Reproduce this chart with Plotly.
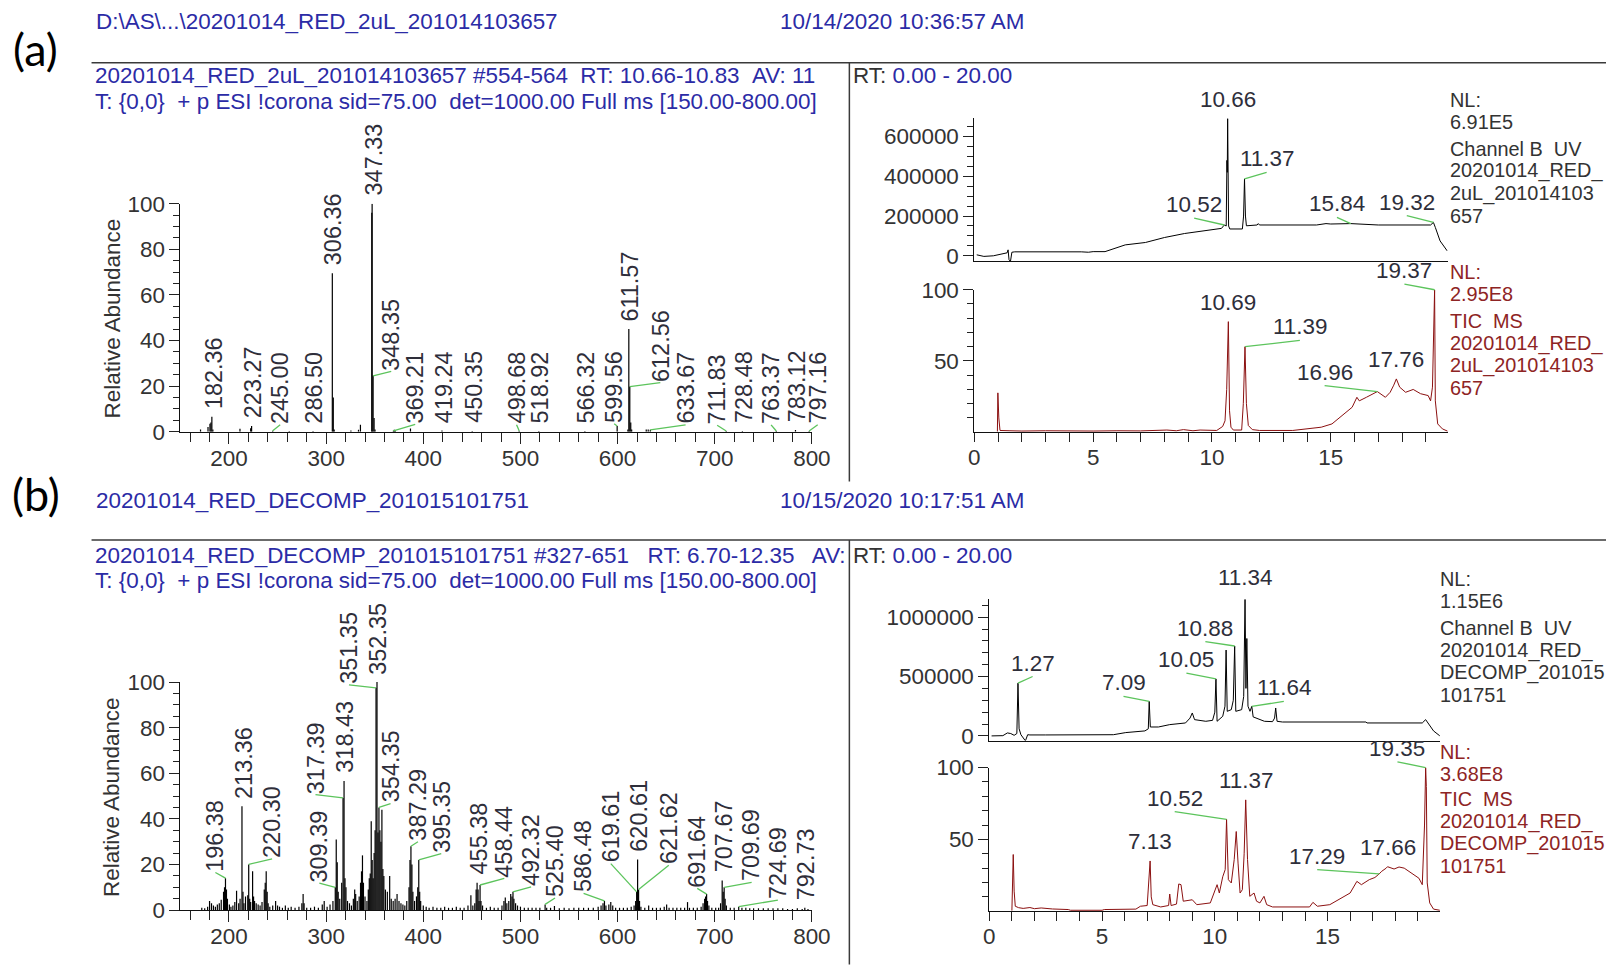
import plotly.graph_objects as go

# Layout positions below are given in a 1606 x 965 page frame (P).  They are
# converted to figure pixels with a linear mapping that accounts for the body
# margin of the page and the scale of the rendered view.
W, H = 1606, 965
SX, TX = 1.0154, -6.54
SY, TY = 1.0243, -10.99
FW, FH = round(SX * W + TX) + 1, round(SY * H + TY) + 1
FS = 1.02  # font scale matching the mapping

FONT = "Liberation Sans, Arial, sans-serif"
BLUE = "#2b2ba6"
INK = "#333333"
LABEL_INK = "#2e2e3a"
TIC_RED = "#8b1010"
LEGEND_RED = "#8e2424"
LEADER = "#5cc45c"

# ---------------- mass spectrum (a): RT 10.66-10.83 ----------------
spec_a_mz = [170.7, 178.4, 180.4, 181.4, 182.36, 183.4, 211.3, 222.3, 223.27, 245.00,
             262.0, 286.50, 306.36, 307.36, 308.3, 325.5, 333.3, 335.3, 347.0, 347.33,
             348.35, 349.35, 350.3, 369.21, 370.2, 371.2, 386.8, 419.24, 450.35, 498.68,
             518.92, 566.32, 599.56, 610.6, 611.57, 612.56, 613.55, 614.5, 629.5, 631.5,
             633.67, 711.83, 728.48, 763.37, 783.12, 797.16]
spec_a_int = [1.0, 2.0, 3.5, 4.0, 6.6, 1.0, 1.3, 1.5, 2.5, 0.4,
              0.3, 0.3, 69.5, 15.0, 1.0, 0.5, 0.8, 3.0, 96.0, 100.0,
              24.5, 6.0, 1.0, 0.4, 0.8, 0.5, 1.4, 0.5, 0.3, 0.4,
              0.3, 0.3, 2.5, 1.0, 45.0, 19.8, 4.0, 1.0, 1.0, 1.0,
              0.8, 0.3, 0.3, 0.3, 0.7, 0.3]
spec_a_labels = [182.36, 223.27, 245.00, 286.50, 306.36, 347.33, 348.35, 369.21, 419.24,
                 450.35, 498.68, 518.92, 566.32, 599.56, 611.57, 612.56, 633.67, 711.83,
                 728.48, 763.37, 783.12, 797.16]

# ---------------- mass spectrum (b): RT 6.70-12.35 ----------------
spec_b_mz = [172.0, 175.0, 178.0, 180.0, 182.0, 184.0, 186.0, 188.0, 190.0, 192.0,
             194.4, 195.4, 196.38, 197.4, 198.4, 200.4, 202.0, 204.0, 206.0, 207.8,
             210.0, 211.4, 213.36, 214.4, 215.4, 217.0, 219.3, 220.30, 221.3, 222.3,
             224.3, 225.3, 226.3, 228.0, 230.0, 232.0, 234.0, 236.3, 237.3, 238.3,
             239.3, 240.3, 242.0, 245.0, 248.0, 250.0, 252.0, 255.0, 258.0, 261.0,
             264.0, 268.0, 272.0, 275.0, 276.3, 277.3, 280.0, 284.0, 288.0, 292.0,
             296.0, 298.0, 301.0, 304.0, 307.0, 309.39, 310.4, 311.4, 312.4, 314.0,
             316.0, 317.39, 318.43, 319.4, 320.4, 322.0, 324.0, 326.0, 328.0, 329.4,
             330.4, 332.0, 334.0, 335.4, 336.4, 337.4, 338.4, 340.0, 342.0, 343.4,
             344.4, 345.4, 346.4, 347.4, 348.4, 349.4, 350.4, 351.35, 352.35, 353.35,
             354.35, 355.35, 356.4, 357.4, 358.4, 359.4, 361.0, 363.0, 365.4, 367.0,
             369.0, 371.0, 373.0, 375.0, 377.0, 379.0, 381.0, 383.0, 385.3, 386.3,
             387.29, 388.3, 389.3, 391.0, 393.0, 394.3, 395.35, 396.3, 397.3, 400.0,
             403.0, 406.0, 410.0, 414.0, 418.0, 422.0, 426.0, 430.0, 434.0, 438.0,
             442.0, 446.0, 449.0, 451.0, 453.0, 454.4, 455.38, 456.4, 457.4, 458.44,
             459.4, 461.0, 465.0, 469.0, 473.0, 477.0, 481.0, 483.0, 484.4, 486.0,
             488.0, 490.0, 491.3, 492.32, 493.3, 495.0, 497.0, 500.0, 504.0, 508.0,
             512.0, 516.0, 520.0, 525.40, 527.0, 531.0, 535.0, 540.0, 545.0, 550.0,
             555.0, 560.0, 565.0, 570.0, 575.0, 580.0, 583.0, 585.0, 586.48, 588.0,
             591.0, 593.0, 595.0, 598.0, 602.0, 606.0, 610.0, 614.0, 617.0, 618.6,
             619.61, 620.61, 621.62, 622.6, 624.0, 628.0, 632.0, 636.0, 640.0, 644.0,
             648.0, 650.5, 653.0, 657.0, 661.0, 665.0, 669.0, 672.0, 674.0, 678.0,
             682.0, 686.0, 688.0, 689.6, 690.6, 691.64, 692.6, 694.0, 697.0, 701.0,
             704.0, 706.0, 707.67, 708.7, 709.69, 710.7, 712.0, 716.0, 720.0, 724.69,
             728.0, 732.0, 736.0, 740.0, 745.0, 750.0, 755.0, 760.0, 765.0, 770.0,
             775.0, 780.0, 785.0, 790.0, 792.73, 796.0]
spec_b_int = [1.0, 0.8, 1.5, 4.0, 3.0, 2.0, 1.5, 2.5, 3.0, 4.5,
              8.0, 10.0, 14.0, 9.0, 5.0, 2.5, 1.5, 2.0, 3.5, 8.5,
              3.0, 5.0, 45.5, 8.0, 3.0, 6.0, 6.5, 20.0, 5.0, 3.5,
              17.0, 6.0, 4.0, 3.0, 2.5, 2.0, 3.5, 9.0, 12.0, 17.0,
              8.0, 3.0, 1.5, 2.0, 4.0, 2.0, 1.5, 1.0, 2.0, 1.0,
              1.5, 1.0, 1.5, 3.0, 7.0, 3.0, 1.0, 1.0, 1.5, 1.0,
              2.5, 4.0, 1.5, 2.5, 4.0, 10.0, 31.0, 21.0, 8.0, 5.0,
              12.0, 49.2, 56.6, 14.0, 10.0, 4.0, 3.0, 2.0, 5.0, 9.0,
              7.0, 4.0, 6.0, 12.0, 17.0, 24.0, 12.0, 6.0, 4.0, 9.0,
              14.0, 16.0, 39.0, 22.0, 14.0, 25.0, 35.0, 97.5, 100.0, 34.0,
              45.0, 35.0, 30.0, 44.0, 18.0, 15.0, 9.0, 8.0, 15.0, 5.0,
              4.0, 5.0, 7.0, 4.0, 3.0, 2.5, 2.0, 4.0, 10.0, 22.0,
              28.0, 20.0, 8.0, 4.0, 6.0, 10.0, 22.0, 8.0, 4.0, 2.0,
              1.5, 1.0, 1.5, 1.0, 1.0, 1.5, 1.0, 1.0, 1.5, 1.0,
              1.0, 2.0, 6.5, 2.0, 3.0, 9.0, 12.0, 9.0, 4.0, 11.0,
              4.0, 2.0, 1.0, 1.5, 1.0, 1.0, 2.0, 4.0, 5.5, 3.0,
              4.0, 7.0, 6.0, 8.0, 5.0, 3.0, 2.0, 1.5, 1.0, 1.0,
              1.0, 1.0, 1.0, 2.5, 1.0, 1.0, 1.8, 0.8, 1.0, 0.8,
              1.0, 1.0, 1.0, 1.0, 1.0, 1.5, 2.0, 3.0, 4.0, 2.0,
              2.5, 3.5, 2.0, 1.0, 1.0, 1.0, 1.0, 1.5, 2.0, 4.0,
              8.0, 22.2, 9.0, 4.0, 1.5, 1.0, 2.0, 1.0, 1.0, 1.0,
              1.5, 2.5, 1.0, 1.0, 1.0, 1.0, 1.0, 3.5, 1.0, 1.0,
              1.0, 1.5, 3.0, 5.0, 6.0, 7.0, 4.0, 2.0, 1.0, 1.0,
              1.0, 3.0, 13.0, 8.0, 10.0, 5.0, 2.0, 1.0, 1.0, 1.5,
              1.0, 1.0, 0.8, 0.8, 0.8, 0.8, 0.8, 0.8, 0.8, 0.8,
              0.5, 0.5, 0.8, 0.5, 1.0, 0.5]
spec_b_labels = [196.38, 213.36, 220.30, 309.39, 317.39, 318.43, 351.35, 352.35, 354.35,
                 387.29, 395.35, 455.38, 458.44, 492.32, 525.40, 586.48, 619.61, 620.61,
                 621.62, 691.64, 707.67, 709.69, 724.69, 792.73]

# ---------------- chromatograms, run (a) ----------------
uv_a_nl = 6.91e5
tic_a_nl = "2.95E8"
uv_a_t = [0.10, 0.40, 0.80, 1.20, 1.38, 1.42, 1.46, 1.52, 1.58, 1.70,
          2.50, 3.50, 4.50, 4.80, 5.00, 5.50, 5.80, 6.35, 7.20, 8.00,
          8.84, 9.67, 10.40, 10.52, 10.60, 10.63, 10.645, 10.66, 10.70, 10.75,
          11.28, 11.33, 11.37, 11.41, 11.45, 11.90, 11.95, 12.00, 14.40, 14.80,
          15.00, 15.84, 16.30, 17.00, 19.20, 19.32, 19.40, 19.60, 19.90]
uv_a_v = [5000, -3000, 0, 8000, 15000, 30000, -20000, -28000, 18000, 20000,
          21000, 21000, 20000, 18000, 21000, 21000, 33000, 55000, 67000, 92000,
          112000, 126000, 138000, 155000, 150000, 480000, 420000, 691000, 150000, 135000,
          135000, 200000, 387000, 200000, 151000, 155000, 162000, 155000, 155000, 162000,
          160000, 162000, 160000, 155000, 155000, 168000, 143000, 75000, 25000]
uv_a_labels = [10.52, 10.66, 11.37, 15.84, 19.32]

tic_a_t = [0.97, 0.99, 1.03, 1.08, 1.50, 2.00, 3.00, 4.00, 5.00, 6.00,
           7.00, 8.10, 8.50, 8.80, 9.20, 9.50, 10.20, 10.45, 10.55, 10.62,
           10.69, 10.74, 10.80, 10.90, 11.25, 11.32, 11.39, 11.45, 11.53, 11.70,
           12.00, 13.40, 14.00, 14.60, 15.05, 15.50, 15.90, 16.10, 16.20, 16.50,
           16.96, 17.30, 17.50, 17.65, 17.76, 17.90, 18.15, 18.47, 18.78, 19.10,
           19.20, 19.28, 19.37, 19.40, 19.50, 19.70, 19.92]
tic_a_v = [0.5, 27.6, 10.0, 1.2, 1.0, 0.8, 1.0, 0.8, 0.8, 1.0,
           0.9, 1.5, 1.0, 1.8, 1.0, 1.5, 1.2, 4.0, 8.0, 30.0,
           77.6, 15.0, 3.5, 1.5, 1.5, 20.0, 60.0, 20.0, 4.7, 1.8,
           1.2, 1.2, 2.3, 3.5, 5.8, 11.7, 17.5, 24.5, 22.0, 24.5,
           28.5, 24.5, 28.0, 33.0, 37.4, 31.6, 28.0, 30.0, 27.0, 25.7,
           22.0, 31.6, 100.0, 22.0, 5.8, 2.3, 0.7]
tic_a_labels = [10.69, 11.39, 16.96, 17.76, 19.37]

# ---------------- chromatograms, run (b) ----------------
uv_b_nl = 1.15e6
tic_b_nl = "3.68E8"
uv_b_t = [0.10, 0.60, 0.80, 0.95, 1.10, 1.22, 1.27, 1.32, 1.40, 1.50,
          1.60, 1.70, 1.80, 2.50, 3.50, 4.50, 5.50, 6.05, 6.90, 7.05,
          7.09, 7.14, 7.50, 8.00, 8.40, 8.70, 8.90, 9.00, 9.10, 9.40,
          9.60, 9.90, 10.00, 10.05, 10.10, 10.35, 10.45, 10.50, 10.55, 10.73,
          10.82, 10.88, 10.93, 11.19, 11.28, 11.34, 11.38, 11.42, 11.47, 11.56,
          11.64, 11.70, 11.97, 12.20, 12.56, 12.65, 12.70, 12.76, 13.00, 16.70,
          16.75, 19.20, 19.35, 19.50, 19.70, 19.98]
uv_b_v = [0, 2000, 25000, 20000, 5000, 20000, 444000, 60000, 10000, -20000,
          -42000, 10000, 8000, 8000, 9000, 9000, 10000, 28000, 42000, 60000,
          290000, 75000, 75000, 95000, 100000, 109000, 150000, 193000, 137000, 130000,
          123000, 131000, 200000, 480000, 123000, 165000, 250000, 723000, 207000, 221000,
          300000, 757000, 207000, 221000, 332000, 1150000, 400000, 820000, 250000, 207000,
          249000, 160000, 137000, 123000, 120000, 150000, 235000, 123000, 117000, 117000,
          109000, 109000, 137000, 100000, 42000, 0]
uv_b_labels = [1.27, 7.09, 10.05, 10.88, 11.34, 11.64]

tic_b_t = [1.00, 1.06, 1.10, 1.15, 1.30, 1.50, 1.80, 2.00, 2.30, 2.80,
           3.50, 3.60, 5.00, 5.10, 6.50, 6.70, 7.00, 7.08, 7.13, 7.18,
           7.25, 7.60, 7.95, 8.00, 8.06, 8.30, 8.40, 8.50, 8.60, 9.00,
           9.20, 9.80, 10.00, 10.10, 10.20, 10.35, 10.46, 10.52, 10.60, 10.73,
           10.86, 10.95, 11.03, 11.12, 11.22, 11.30, 11.37, 11.45, 11.55, 11.74,
           11.85, 12.00, 12.18, 12.30, 12.56, 14.20, 14.35, 14.55, 15.10, 15.50,
           16.00, 16.30, 16.50, 16.85, 17.10, 17.29, 17.40, 17.60, 17.66, 17.95,
           18.17, 18.40, 18.60, 18.80, 19.05, 19.20, 19.30, 19.35, 19.38, 19.42,
           19.53, 19.70, 19.98]
tic_b_v = [0.5, 39.5, 14.0, 3.5, 2.5, 2.0, 2.6, 1.8, 2.3, 1.6,
           1.2, 0.7, 0.7, 1.2, 1.5, 3.5, 4.0, 20.0, 35.0, 10.0,
           4.6, 3.0, 4.0, 12.0, 4.0, 5.0, 19.0, 18.5, 7.0, 8.0,
           4.6, 5.8, 15.0, 18.5, 12.7, 24.0, 29.0, 64.0, 22.0, 19.7,
           36.0, 55.5, 33.5, 12.7, 15.0, 40.0, 77.5, 36.0, 10.4, 12.7,
           7.0, 5.8, 10.4, 4.6, 3.0, 3.0, 6.2, 3.5, 4.6, 8.1,
           12.7, 20.8, 18.5, 22.0, 23.5, 26.0, 27.8, 30.0, 31.0, 29.4,
           30.8, 30.0, 27.8, 26.0, 23.0, 18.5, 60.0, 100.0, 86.8, 19.7,
           5.8, 1.5, 0.7]
tic_b_labels = [7.13, 10.52, 11.37, 17.29, 17.66, 19.35]

# ---------------- label placement (offset labels with leader lines) ----------------
spec_a_place = {"245.00": (252.7, 3.0), "348.35": (367.0, 26.4), "369.21": (391.7, 3.2),
                "498.68": (496.0, 3.0), "599.56": (596.5, 3.5), "612.56": (644.0, 21.5),
                "633.67": (670.0, 3.0), "711.83": (702.5, 2.8), "763.37": (758.0, 3.0),
                "797.16": (806.0, 3.0)}
spec_b_place = {"196.38": (186.0, 16.5), "220.30": (244.4, 22.5), "309.39": (293.0, 11.8),
                "317.39": (289.0, 50.6), "351.35": (323.5, 98.8), "354.35": (366.3, 46.7),
                "387.29": (394.5, 30.0), "395.35": (418.5, 24.8), "458.44": (483.4, 13.9),
                "492.32": (511.0, 10.2), "525.40": (535.6, 5.3), "586.48": (565.0, 7.3),
                "619.61": (593.0, 20.4), "621.62": (652.7, 19.7), "691.64": (682.0, 9.5),
                "709.69": (738.0, 12.2), "724.69": (765.0, 4.4)}
uv_a_place = {"10.52": (9.25, 190000), "11.37": (12.3, 420000), "15.84": (15.26, 193000),
              "19.32": (18.2, 202000)}
tic_a_place = {"11.39": (13.7, 64.5), "16.96": (14.74, 32.7), "19.37": (18.1, 104.0)}
uv_b_place = {"1.27": (1.92, 500000), "7.09": (5.95, 332000), "10.05": (8.74, 528000),
              "10.88": (9.58, 793000), "11.64": (13.06, 290000)}
tic_b_place = {"10.52": (8.22, 69.4), "17.29": (14.54, 29.0), "19.35": (18.1, 104.0)}

# ---------------- page geometry: (value, page pixel) calibration pairs ----------------
SPEC_X = ((150, 180.9), (800, 812.5))
CHROM_A_X = ((0, 975.0), (15, 1331.5))
CHROM_B_X = ((0, 990.0), (15, 1328.3))
SPEC_A_Y = ((0, 431.2), (100, 202.8))
SPEC_B_Y = ((0, 910.5), (100, 682.1))
UV_A_Y = ((0, 255.0), (600000, 135.5))
TIC_A_Y = ((0, 431.7), (100, 289.0))
UV_B_Y = ((0, 736.0), (1000000, 617.0))
TIC_B_Y = ((0, 911.7), (100, 767.7))


def to_px(v, cal):
    (v0, p0), (v1, p1) = cal
    return p0 + (v - v0) * (p1 - p0) / (v1 - v0)


def fx(px):
    return (SX * px + TX) / FW


def fy(py):
    return 1 - (SY * py + TY) / FH


def xdom(rng, cal):
    return [fx(to_px(rng[0], cal)), fx(to_px(rng[1], cal))]


def ydom(rng, cal):
    return [fy(to_px(rng[0], cal)), fy(to_px(rng[1], cal))]


def aref(letter, n):
    return letter if n == 1 else f"{letter}{n}"


def akey(letter, n):
    return f"{letter}axis" if n == 1 else f"{letter}axis{n}"


def spaced(s):
    return s.replace("  ", "\u00a0\u00a0")


# n: visible subplot id; n + 6 is the matching label layer with a wider range
PANELS = [
    dict(n=1, kind="spec", xc=SPEC_X, yc=SPEC_A_Y, xr=[150, 800], yr=[0, 100],
         xl=[150, 815], yl=[0, 140]),
    dict(n=2, kind="uv_a", xc=CHROM_A_X, yc=UV_A_Y, xr=[0, 19.92], yr=[-28600, uv_a_nl],
         xl=[0, 19.92], yl=[-28600, 800000]),
    dict(n=3, kind="tic", xc=CHROM_A_X, yc=TIC_A_Y, xr=[0, 19.92], yr=[0, 100],
         xl=[0, 19.92], yl=[0, 112]),
    dict(n=4, kind="spec", xc=SPEC_X, yc=SPEC_B_Y, xr=[150, 800], yr=[0, 100],
         xl=[150, 815], yl=[0, 140]),
    dict(n=5, kind="uv_b", xc=CHROM_B_X, yc=UV_B_Y, xr=[0, 19.98], yr=[-39500, uv_b_nl],
         xl=[0, 19.98], yl=[-39500, 1350000]),
    dict(n=6, kind="tic", xc=CHROM_B_X, yc=TIC_B_Y, xr=[0, 19.98], yr=[0, 100],
         xl=[0, 19.98], yl=[0, 110]),
]

TICKFONT = dict(family=FONT, size=22 * FS, color=INK)


def base_axis():
    return dict(showgrid=False, zeroline=False, showline=True, linecolor="#111111",
                linewidth=1, ticks="outside", tickcolor="#222222", tickwidth=1,
                tickfont=TICKFONT, fixedrange=True)


def tick_setup(kind):
    if kind == "spec":
        xmaj = list(range(200, 801, 100))
        xmin = [v for v in range(160, 800, 20) if v % 100]
        ymaj = list(range(0, 101, 20))
        ymin = [v for v in range(5, 100, 5) if v % 20]
        xa = dict(tickmode="array", tickvals=xmaj, ticktext=[str(v) for v in xmaj], ticklen=11,
                  ticklabelstandoff=-5,
                  minor=dict(tickmode="array", tickvals=xmin, ticks="outside", ticklen=9,
                             tickcolor="#222222"))
        ya = dict(tickmode="array", tickvals=ymaj, ticktext=[str(v) for v in ymaj], ticklen=10,
                  minor=dict(tickmode="array", tickvals=ymin, ticks="outside", ticklen=6,
                             tickcolor="#222222"))
    elif kind == "tic":
        xmaj = [0, 5, 10, 15]
        xmin = [v for v in range(1, 20) if v % 5]
        xa = dict(tickmode="array", tickvals=xmaj, ticktext=[str(v) for v in xmaj], ticklen=9,
                  ticklabelstandoff=-4,
                  minor=dict(tickmode="array", tickvals=xmin, ticks="outside", ticklen=9,
                             tickcolor="#222222"))
        ya = dict(tickmode="array", tickvals=[50, 100], ticktext=["50", "100"], ticklen=10,
                  minor=dict(tickmode="array", tickvals=[10, 20, 30, 40, 60, 70, 80, 90],
                             ticks="outside", ticklen=6, tickcolor="#222222"))
    else:
        step, minor_step, top = ((200000, 50000, 600000) if kind == "uv_a"
                                 else (500000, 100000, 1000000))
        ymaj = list(range(0, top + 1, step))
        ymin = [v for v in range(minor_step, 1150001, minor_step)
                if v % step and v < (uv_a_nl if kind == "uv_a" else uv_b_nl)]
        xa = dict(ticks="", showticklabels=False)
        ya = dict(tickmode="array", tickvals=ymaj, ticktext=[str(v) for v in ymaj], ticklen=10,
                  minor=dict(tickmode="array", tickvals=ymin, ticks="outside", ticklen=6,
                             tickcolor="#222222"))
    return xa, ya


layout_axes = {}
for p in PANELS:
    n, ov = p["n"], p["n"] + 6
    xa, ya = tick_setup(p["kind"])
    xax = base_axis(); xax.update(xa)
    yax = base_axis(); yax.update(ya)
    xax.update(domain=xdom(p["xr"], p["xc"]), range=p["xr"], anchor=aref("y", n))
    yax.update(domain=ydom(p["yr"], p["yc"]), range=p["yr"], anchor=aref("x", n))
    layout_axes[akey("x", n)] = xax
    layout_axes[akey("y", n)] = yax
    layout_axes[akey("x", ov)] = dict(visible=False, fixedrange=True, range=p["xl"],
                                      domain=xdom(p["xl"], p["xc"]), anchor=aref("y", ov))
    layout_axes[akey("y", ov)] = dict(visible=False, fixedrange=True, range=p["yl"],
                                      domain=ydom(p["yl"], p["yc"]), anchor=aref("x", ov))

fig = go.Figure()


def add_sticks(mz, inten, n):
    xs, ys = [], []
    for m, v in zip(mz, inten):
        xs += [m, m, None]
        ys += [0, v, None]
    fig.add_trace(go.Scatter(x=xs, y=ys, mode="lines", line=dict(color="black", width=1.2),
                             xaxis=aref("x", n), yaxis=aref("y", n), hoverinfo="skip"))


def add_trace_line(t, v, n, color):
    fig.add_trace(go.Scatter(x=t, y=v, mode="lines", line=dict(color=color, width=1),
                             xaxis=aref("x", n), yaxis=aref("y", n), hoverinfo="skip"))


def add_peak_labels(labels, xs, ys, place, gap, n, rotated):
    ov = n + 6
    lx, ly = [], []
    for lab in labels:
        i = min(range(len(xs)), key=lambda k: abs(xs[k] - lab))
        key = f"{lab:.2f}"
        if key in place:
            tx, ty = place[key]
            lx += [xs[i], tx, None]
            ly += [ys[i], ty, None]
        else:
            tx, ty = xs[i] + gap[0], ys[i] + gap[1]
        fig.add_annotation(x=tx, y=ty, xref=aref("x", ov), yref=aref("y", ov), text=key,
                           showarrow=False, textangle=-90 if rotated else 0,
                           xanchor="center", yanchor="bottom", borderpad=0,
                           font=dict(family=FONT, size=(23 if rotated else 22) * FS,
                                     color=LABEL_INK))
    fig.add_trace(go.Scatter(x=lx, y=ly, mode="lines", line=dict(color=LEADER, width=1.3),
                             xaxis=aref("x", ov), yaxis=aref("y", ov), hoverinfo="skip"))


# spectra
add_sticks(spec_a_mz, spec_a_int, 1)
add_peak_labels(spec_a_labels, spec_a_mz, spec_a_int, spec_a_place, (1.5, 3.0), 1, True)
add_sticks(spec_b_mz, spec_b_int, 4)
add_peak_labels(spec_b_labels, spec_b_mz, spec_b_int, spec_b_place, (1.5, 3.0), 4, True)

# chromatograms
add_trace_line(uv_a_t, uv_a_v, 2, "black")
add_peak_labels(uv_a_labels, uv_a_t, uv_a_v, uv_a_place, (0, 27000), 2, False)
add_trace_line(tic_a_t, tic_a_v, 3, TIC_RED)
add_peak_labels(tic_a_labels, tic_a_t, tic_a_v, tic_a_place, (0, 4.0), 3, False)
add_trace_line(uv_b_t, uv_b_v, 5, "black")
add_peak_labels(uv_b_labels, uv_b_t, uv_b_v, uv_b_place, (0, 70000), 5, False)
add_trace_line(tic_b_t, tic_b_v, 6, TIC_RED)
add_peak_labels(tic_b_labels, tic_b_t, tic_b_v, tic_b_place, (0, 4.0), 6, False)


# ---------------- page text ----------------
def text(px, py, s, color=INK, size=22, xanchor="left", family=FONT, angle=0):
    fig.add_annotation(x=fx(px), y=fy(py), xref="paper", yref="paper", text=s,
                       showarrow=False, xanchor=xanchor, yanchor="middle", textangle=angle,
                       borderpad=0, font=dict(family=family, size=size * FS, color=color))


scan_line = spaced("T: {0,0}  + p ESI !corona sid=75.00  det=1000.00 Full ms [150.00-800.00]")
rt_range = f"RT: <span style='color:{BLUE}'>0.00 - 20.00</span>"

# run (a)
text(36, 48, "(a)", color="black", size=44, xanchor="center", family="Lato, Liberation Sans")
text(95, 20, r"D:\AS\...\20201014_RED_2uL_201014103657", color=BLUE)
text(780, 20, "10/14/2020 10:36:57 AM", color=BLUE)
text(94, 74.5, spaced("20201014_RED_2uL_201014103657 #554-564  RT: 10.66-10.83  AV: 11"), color=BLUE)
text(94, 100.5, scan_line, color=BLUE)
text(853, 74.5, rt_range)
text(112.7, 317.5, "Relative Abundance", xanchor="center", angle=-90)

LEG = 19.5
uv_a_legend = ["NL:", f"{uv_a_nl:.2E}".replace("E+0", "E"), "Channel B  UV",
               "20201014_RED_", "2uL_201014103", "657"]
for s, y in zip(uv_a_legend, [98.5, 120.5, 147.5, 170.0, 192.5, 215.0]):
    text(1450, y, spaced(s), size=LEG)
tic_a_legend = ["NL:", tic_a_nl, "TIC  MS", "20201014_RED_", "2uL_201014103", "657"]
for s, y in zip(tic_a_legend, [271.5, 293.5, 320.0, 342.5, 365.0, 387.5]):
    text(1450, y, spaced(s), color=LEGEND_RED, size=LEG)

# run (b)
text(36, 494, "(b)", color="black", size=44, xanchor="center", family="Lato, Liberation Sans")
text(95, 500.5, "20201014_RED_DECOMP_201015101751", color=BLUE)
text(780, 500.5, "10/15/2020 10:17:51 AM", color=BLUE)
text(94, 555, spaced("20201014_RED_DECOMP_201015101751 #327-651   RT: 6.70-12.35   AV:"),
     color=BLUE)
text(94, 580.5, scan_line, color=BLUE)
text(853, 555, rt_range)
text(112.7, 797, "Relative Abundance", xanchor="center", angle=-90)

uv_b_legend = ["NL:", f"{uv_b_nl:.2E}".replace("E+0", "E"), "Channel B  UV",
               "20201014_RED_", "DECOMP_201015", "101751"]
for s, y in zip(uv_b_legend, [579.0, 601.0, 627.5, 650.0, 672.5, 695.0]):
    text(1440, y, spaced(s), size=LEG)
tic_b_legend = ["NL:", tic_b_nl, "TIC  MS", "20201014_RED_", "DECOMP_201015", "101751"]
for s, y in zip(tic_b_legend, [752.0, 774.0, 799.0, 821.5, 844.0, 866.5]):
    text(1440, y, spaced(s), color=LEGEND_RED, size=LEG)

# frame lines between header and plots
SEP = dict(color="#3a3a3a", width=1.5)
for y in (61.5, 539.8):
    fig.add_shape(type="line", xref="paper", yref="paper", x0=fx(92), x1=1.0,
                  y0=fy(y), y1=fy(y), line=SEP)
for y0, y1 in ((61.5, 481.0), (539.8, H)):
    fig.add_shape(type="line", xref="paper", yref="paper", x0=fx(850), x1=fx(850),
                  y0=fy(y0), y1=max(fy(y1), 0.0), line=SEP)

fig.update_layout(width=FW, height=FH, margin=dict(l=0, r=0, t=0, b=0), showlegend=False,
                  paper_bgcolor="white", plot_bgcolor="rgba(0,0,0,0)", hovermode=False,
                  **layout_axes)

fig.write_html("out.html")
